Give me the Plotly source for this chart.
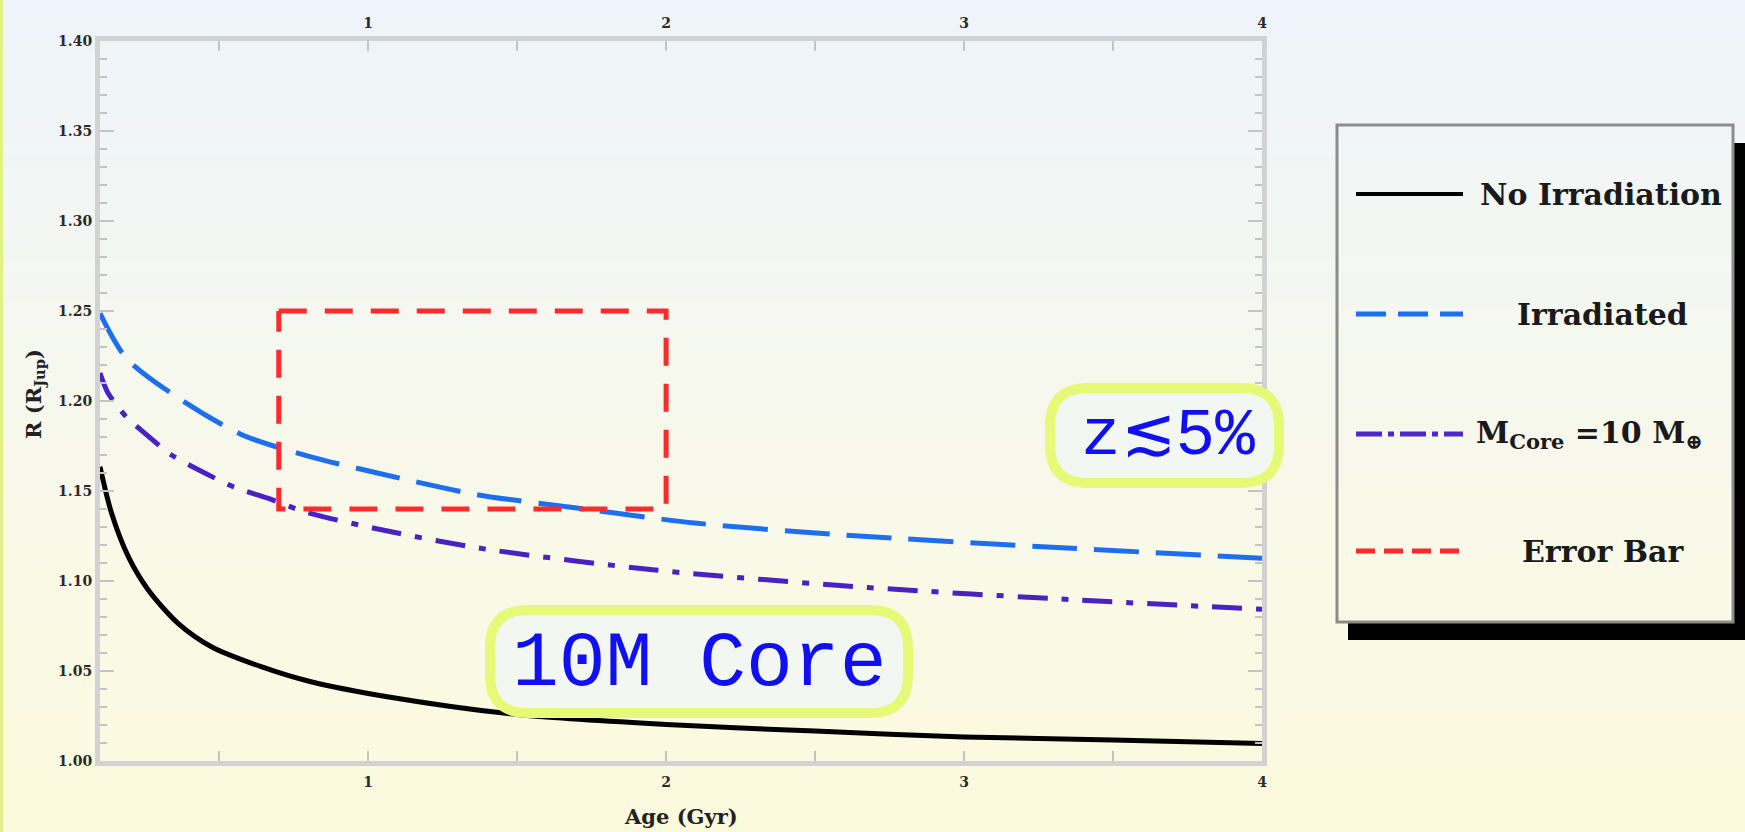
import plotly.graph_objects as go

# ---------------- data ----------------
age_noirr = [0.1, 0.139, 0.195, 0.262, 0.362, 0.474, 0.641, 0.808, 1.064, 1.5, 2.0, 2.5, 3.0, 3.5, 4.0]
r_noirr = [1.1635, 1.1376, 1.1135, 1.095, 1.0765, 1.0635, 1.0524, 1.044, 1.0357, 1.0258, 1.0203, 1.0166, 1.0134, 1.0117, 1.0097]

age_irr = [0.1, 0.189, 0.373, 0.58, 0.808, 1.031, 1.371, 1.7, 2.097, 2.6, 3.345, 4.0]
r_irr = [1.2487, 1.2237, 1.2006, 1.181, 1.169, 1.160, 1.1478, 1.1406, 1.1322, 1.1255, 1.1183, 1.1127]

age_core = [0.1, 0.127, 0.189, 0.244, 0.34, 0.44, 0.552, 0.663, 0.786, 1.02, 1.371, 1.963, 2.676, 3.388, 4.0]
r_core = [1.2155, 1.2044, 1.191, 1.183, 1.170, 1.161, 1.152, 1.146, 1.1385, 1.1293, 1.1183, 1.1061, 1.0964, 1.0894, 1.0843]

err_age = [0.7, 2.0, 2.0, 0.7, 0.7]
err_r = [1.25, 1.25, 1.14, 1.14, 1.25]

series_names = ["No Irradiation", "Irradiated", "M<sub>Core</sub> =10 M<sub>⊕</sub>", "Error Bar"]
x_range = [0.1, 4.0]
y_range = [1.0, 1.4]
x_title = "Age (Gyr)"
y_title = "R (R<sub>Jup</sub>)"
note_core = "10M Core"
note_z = "z≲5%"

# ---------------- geometry helpers ----------------
FW, FH = 1745, 832
L, T, R, B = 100, 41, 1262, 761
PW, PH = R - L, B - T


def X(p):
    return (p - L) / PW


def Y(p):
    return (B - p) / PH


def lerp(c1, c2, t):
    return tuple(int(round(a + (b - a) * t)) for a, b in zip(c1, c2))


stops = [(0.0, (238, 244, 251)), (0.45, (246, 248, 238)), (1.0, (252, 250, 221))]


def grad_color(f):
    for (f0, c0), (f1, c1) in zip(stops[:-1], stops[1:]):
        if f <= f1:
            return lerp(c0, c1, (f - f0) / (f1 - f0))
    return stops[-1][1]


shapes = []


def grad_rect(x0, y0, x1, y1, n, layer="below"):
    h = (y1 - y0) / n
    for i in range(n):
        ya = y0 + i * h
        yb = ya + h + 0.8
        c = grad_color((ya + h / 2) / FH)
        shapes.append(dict(type="rect", xref="paper", yref="paper", layer=layer,
                           x0=X(x0), x1=X(x1), y0=Y(ya), y1=Y(min(yb, y1)),
                           line=dict(width=0), fillcolor="rgb(%d,%d,%d)" % c))


def rrect_path(x0, y0, x1, y1, r):
    return (f"M {X(x0 + r)},{Y(y0)} L {X(x1 - r)},{Y(y0)} Q {X(x1)},{Y(y0)} {X(x1)},{Y(y0 + r)} "
            f"L {X(x1)},{Y(y1 - r)} Q {X(x1)},{Y(y1)} {X(x1 - r)},{Y(y1)} "
            f"L {X(x0 + r)},{Y(y1)} Q {X(x0)},{Y(y1)} {X(x0)},{Y(y1 - r)} "
            f"L {X(x0)},{Y(y0 + r)} Q {X(x0)},{Y(y0)} {X(x0 + r)},{Y(y0)} Z")


# page background gradient
grad_rect(0, 0, FW, FH, 64)
# thin yellow-green strip on the left edge
shapes.append(dict(type="rect", xref="paper", yref="paper", layer="below",
                   x0=X(0), x1=X(3), y0=Y(0), y1=Y(FH), line=dict(width=0), fillcolor="#E2F08A"))

# annotation boxes (rounded, yellow-green border)
for (bx0, by0, bx1, by1) in [(490, 610, 908, 713), (1050, 388, 1279, 483)]:
    shapes.append(dict(type="path", xref="paper", yref="paper", layer="above",
                       path=rrect_path(bx0, by0, bx1, by1, 38),
                       line=dict(color="#E6FA78", width=10), fillcolor="#F3F7F1"))

# legend: shadow, background, frame
shapes.append(dict(type="rect", xref="paper", yref="paper", layer="above",
                   x0=X(1348), x1=X(1760), y0=Y(143), y1=Y(640), line=dict(width=0), fillcolor="black"))
grad_rect(1337, 125, 1733, 622, 30, layer="above")
shapes.append(dict(type="rect", xref="paper", yref="paper", layer="above",
                   x0=X(1337), x1=X(1733), y0=Y(125), y1=Y(622),
                   line=dict(color="#8C8C8C", width=3), fillcolor="rgba(0,0,0,0)"))

leg_y = [194, 314, 434, 551]
leg_styles = [
    dict(color="black", width=4, dash="solid"),
    dict(color="#1E6FF0", width=5, dash="30px,12px"),
    dict(color="#5028C8", width=5, dash="26px,6px,6px,6px"),
    dict(color="#FF2A2A", width=5, dash="19px,9px"),
]
for yy, st in zip(leg_y, leg_styles):
    shapes.append(dict(type="line", xref="paper", yref="paper", layer="above",
                       x0=X(1356), x1=X(1463), y0=Y(yy), y1=Y(yy), line=st))

# ---------------- traces ----------------
fig = go.Figure()
fig.add_trace(go.Scatter(x=age_noirr, y=r_noirr, mode="lines", name=series_names[0],
                         line=dict(color="black", width=5, shape="spline", smoothing=0.8),
                         showlegend=False))
fig.add_trace(go.Scatter(x=age_irr, y=r_irr, mode="lines", name=series_names[1],
                         line=dict(color="#1E6FF0", width=5, dash="45px,17px", shape="spline", smoothing=0.8),
                         showlegend=False))
fig.add_trace(go.Scatter(x=age_core, y=r_core, mode="lines", name="M_Core = 10 M_Earth",
                         line=dict(color="#4A22C4", width=5, dash="30px,14px,7px,14px", shape="spline", smoothing=0.8),
                         showlegend=False))
# error box drawn on the top (matching) x axis so that axis gets its tick labels
fig.add_trace(go.Scatter(x=err_age, y=err_r, mode="lines", name=series_names[3], xaxis="x2", yaxis="y",
                         line=dict(color="#FF2A2A", width=5, dash="28px,18px"),
                         showlegend=False))

# ---------------- annotations ----------------
serif = "DejaVu Serif"
annotations = []
leg_text_pos = [(1478, "left"), (1602, "center"), (1474, "left"), (1603, "center")]
for (xx, al), yy, txt in zip(leg_text_pos, leg_y, series_names):
    annotations.append(dict(xref="paper", yref="paper", x=X(xx), y=Y(yy), xanchor=al, yanchor="middle",
                            text="<b>" + txt + "</b>", showarrow=False,
                            font=dict(family=serif, size=30, color="#1A1A1A")))

annotations.append(dict(xref="paper", yref="paper", x=X(699), y=Y(664), xanchor="center", yanchor="middle",
                        text=note_core, showarrow=False,
                        font=dict(family="Liberation Mono", size=78, color="#1010F0")))
annotations.append(dict(xref="paper", yref="paper", x=X(1168), y=Y(436), xanchor="center", yanchor="middle",
                        text=note_z, showarrow=False,
                        font=dict(family="Liberation Mono", size=66, color="#1010F0")))

annotations.append(dict(xref="paper", yref="paper", x=X(681), y=Y(816), xanchor="center", yanchor="middle",
                        text="<b>" + x_title + "</b>", showarrow=False,
                        font=dict(family=serif, size=21, color="#222")))
annotations.append(dict(xref="paper", yref="paper", x=X(34), y=Y(394), xanchor="center", yanchor="middle",
                        text="<b>" + y_title + "</b>", showarrow=False, textangle=-90,
                        font=dict(family=serif, size=21, color="#222")))

tickfont = dict(family=serif, size=14, color="#2A2A2A", weight="bold")
axis_gray = "#D2D2D2"
tick_gray = "#C4C4C4"

fig.update_layout(
    width=FW, height=FH,
    margin=dict(l=L, r=FW - R, t=T, b=FH - B, autoexpand=False),
    paper_bgcolor="#F6F8EE",
    plot_bgcolor="rgba(0,0,0,0)",
    shapes=shapes,
    annotations=annotations,
    showlegend=False,
    xaxis=dict(range=x_range, showgrid=False, zeroline=False,
               showline=True, linecolor=axis_gray, linewidth=5, mirror=True,
               ticks="inside", dtick=1, tick0=0, ticklen=10, tickwidth=2, tickcolor=tick_gray,
               minor=dict(dtick=0.5, tick0=0, ticks="inside", ticklen=10, tickwidth=2, tickcolor=tick_gray),
               ticklabelstandoff=4, tickfont=tickfont),
    xaxis2=dict(range=x_range, matches="x", overlaying="x", side="top", anchor="y", showgrid=False,
                zeroline=False, showline=False, ticks="inside", dtick=1, tick0=0, ticklen=10, tickwidth=2,
                tickcolor=tick_gray,
                minor=dict(dtick=0.5, tick0=0, ticks="inside", ticklen=10, tickwidth=2, tickcolor=tick_gray),
                ticklabelstandoff=9, tickfont=tickfont),
    yaxis=dict(range=y_range, showgrid=False, zeroline=False,
               showline=True, linecolor=axis_gray, linewidth=5, mirror="ticks",
               ticks="inside", dtick=0.05, tick0=1.0, tickformat=".2f", ticklen=14, tickwidth=2,
               tickcolor=tick_gray,
               minor=dict(dtick=0.01, tick0=1.0, ticks="inside", ticklen=7, tickwidth=2, tickcolor=tick_gray),
               tickfont=tickfont),
)

fig.write_html("out.html", config={"displayModeBar": False},
               post_script="document.body.style.margin='0';document.body.style.overflow='hidden';")
